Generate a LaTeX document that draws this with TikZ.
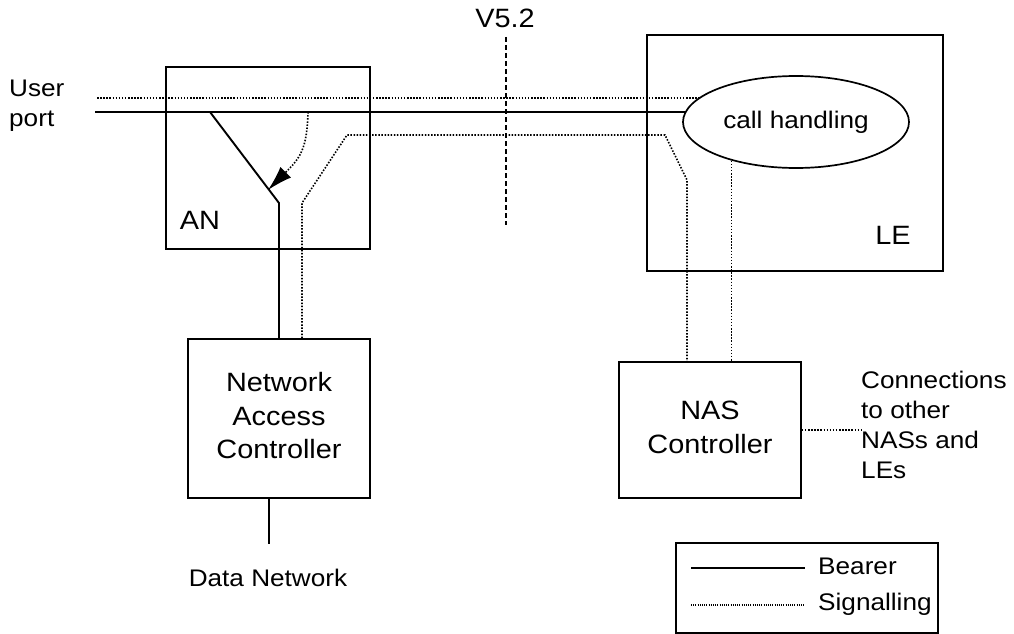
\documentclass[tikz,border=0pt]{standalone}
\usepackage{fontspec}
\setmainfont{Liberation Sans}
\usepackage{graphicx}
\usetikzlibrary{arrows.meta,shapes.geometric}

% slightly widened text blocks, centred or flush left
\newcommand\sx[1]{\scalebox{1.09}[1]{\begin{tabular}{@{}c@{}}#1\end{tabular}}}
\newcommand\sxl[1]{\scalebox{1.09}[1]{\begin{tabular}{@{}l@{}}#1\end{tabular}}}

\tikzset{
  box/.style={draw, line width=1.7pt, inner sep=0pt},
  bearer/.style={line width=1.9pt},
  sig/.style={line width=1.6pt, dash pattern=on 1.5pt off 1.6pt},
  finesig/.style={line width=1.1pt, dash pattern=on 1pt off 1.2pt},
  iface/.style={line width=1.9pt, dash pattern=on 5pt off 3pt},
  lbl/.style={font=\fontsize{24}{30}\selectfont, inner sep=0pt},
  big/.style={font=\fontsize{26.5}{33.5}\selectfont, inner sep=0pt},
}

\begin{document}
\begin{tikzpicture}[x=1pt, y=-1pt]
\useasboundingbox (0,0) rectangle (1014,634);

% boxes
\node[box, minimum width=204pt, minimum height=182pt] (an) at (268,158) {};
\node[big] (anl) at (200,223) {\sx{AN}};
\node[box, minimum width=296pt, minimum height=236pt] (le) at (795,153) {};
\node[big] (lel) at (893,238) {\sx{LE}};
\node[box, ellipse, minimum width=226pt, minimum height=92pt, lbl] (ell) at (796,122) {\sx{call handling}};
\node[box, big, minimum width=182pt, minimum height=159pt] (nac) at (279,418.5) {\sx{Network\\Access\\Controller}};
\node[box, big, minimum width=182pt, minimum height=136pt] (nas) at (710,430) {\sx{NAS\\Controller}};
\node[box, minimum width=262pt, minimum height=90pt] (leg) at (807,588) {};

% free labels
\node[lbl, anchor=west] (user) at (9,105) {\sxl{User\\port}};
\node[big] (v52) at (505,21) {\sx{V5.2}};
\node[lbl] (dnet) at (268,580) {\sx{Data Network}};
\node[lbl, anchor=west] (conn) at (861,427) {\sxl{Connections\\to other\\NASs and\\LEs}};
\node[lbl, anchor=west] (bear) at (818,568) {\sx{Bearer}};
\node[lbl, anchor=west] (sigl) at (818,604) {\sx{Signalling}};

% helper points
\coordinate (ub) at (95,112);
\coordinate (us) at (97,98);
\coordinate (tap) at (210,112);
\coordinate (bend) at (279,203);
\coordinate (v1) at (506,37);
\coordinate (v2) at (506,225);
\path (ell.175) coordinate (e1) (ell.166) coordinate (e2) (ell.211) coordinate (e3);

% user port lines into call handling
\draw[bearer] (ub) -- (ub -| e1);
\draw[sig] (us) -- (us -| e2);

% bearer branch through the AN to the network access controller
\draw[bearer] (nac.north) -- (bend) -- (tap);
\draw[sig, -{Latex[length=25pt, width=15pt]}] (308,112) .. controls (307,150) and (300,158) .. (268,190);

% signalling path between the two controllers
\draw[sig] ([xshift=23pt]nac.north) -- (302,203) -- (347,135) -- (665,135) -- (687,180) -- ([xshift=-23pt]nas.north);
\draw[sig] (e3) -- (e3 |- nas.north);

% data network and onward connections
\draw[bearer] ([xshift=-10pt]nac.south) -- ++(0,45);
\draw[sig] (nas.east) -- (nas.east -| conn.west);

% V5.2 interface
\draw[iface] (v1) -- (v2);

% legend
\coordinate (lb1) at (691,568);
\coordinate (lb2) at (805,568);
\coordinate (ls1) at (691,605);
\coordinate (ls2) at (805,605);
\draw[bearer] (lb1) -- (lb2);
\draw[finesig] (ls1) -- (ls2);
\end{tikzpicture}
\end{document}
